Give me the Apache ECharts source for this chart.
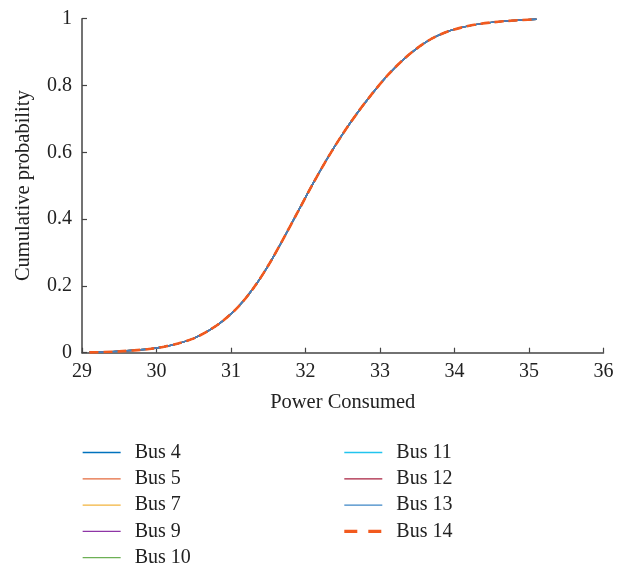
<!DOCTYPE html>
<html>
<head>
<meta charset="utf-8">
<script src="https://cdn.jsdelivr.net/npm/echarts@6/dist/echarts.min.js"></script>
<style>
html,body{margin:0;padding:0;background:#fff;}
#chart{width:626px;height:563px;}
</style>
</head>
<body>
<div id="chart"></div>
<script>
// Power consumed (x) sample positions
var powerValues = [29.1, 29.3, 29.5, 29.7, 29.9, 30.1, 30.3, 30.5, 30.7, 30.9,
  31.1, 31.3, 31.5, 31.7, 31.9, 32.1, 32.3, 32.5, 32.7, 32.9,
  33.1, 33.3, 33.5, 33.7, 33.9, 34.1, 34.3, 34.5, 34.7, 34.9, 35.1];
// Cumulative probability (all buses overlap)
var cumulativeProb = [0.001, 0.002, 0.004, 0.007, 0.011, 0.018, 0.028, 0.043, 0.066, 0.097,
  0.138, 0.193, 0.261, 0.340, 0.423, 0.506, 0.584, 0.655, 0.719, 0.777,
  0.830, 0.875, 0.912, 0.941, 0.961, 0.974, 0.983, 0.989, 0.993, 0.996, 0.998];
var busNames = ['Bus 4', 'Bus 5', 'Bus 7', 'Bus 9', 'Bus 10', 'Bus 11', 'Bus 12', 'Bus 13', 'Bus 14'];
var busColors = ['#0072BD', '#E46A3C', '#F2B33D', '#8E35A6', '#6DB055', '#22C4EE', '#A8203F', '#3C86C6', '#F25A1E'];
var xTicks = [29, 30, 31, 32, 33, 34, 35, 36];
var yTicks = [0, 0.2, 0.4, 0.6, 0.8, 1];

var FONT = 'Liberation Serif';
var series = busNames.map(function (name, i) {
  var dashed = (name === 'Bus 14');
  return {
    name: name,
    type: 'line',
    data: powerValues.map(function (x, k) { return [x, cumulativeProb[k]]; }),
    showSymbol: false,
    symbol: 'none',
    smooth: 0.3,
    lineStyle: {
      color: busColors[i],
      width: dashed ? 2.6 : 1.5,
      type: dashed ? [9, 5] : 'solid'
    },
    itemStyle: { color: busColors[i] },
    z: 2 + i
  };
});

function legendCfg(names, left) {
  return {
    data: names.map(function (n) {
      if (n === 'Bus 14') {
        return { name: n, lineStyle: { width: 3.2, type: [13, 11] } };
      }
      return { name: n, lineStyle: { width: 1.3 } };
    }),
    orient: 'vertical', left: left, top: 442.5, height: 140,
    padding: 0,
    itemWidth: 38, itemHeight: 14, itemGap: 6.3,
    itemStyle: { opacity: 0, borderWidth: 0 },
    textStyle: { fontFamily: FONT, fontSize: 20, lineHeight: 20, color: '#222', padding: [0, 0, 0, 9] },
    selectedMode: false
  };
}

var chart = echarts.init(document.getElementById('chart'), null, { renderer: 'canvas' });
var axisCol = '#444';
chart.setOption({
  animation: false,
  backgroundColor: '#fff',
  textStyle: { fontFamily: FONT },
  grid: { left: 82, right: 22.5, top: 18.7, bottom: 210.3, containLabel: false },
  xAxis: {
    type: 'value',
    min: xTicks[0], max: xTicks[xTicks.length - 1], interval: 1,
    name: 'Power Consumed', nameLocation: 'middle', nameGap: 39,
    nameTextStyle: { fontFamily: FONT, fontSize: 20.5, color: '#222' },
    axisLine: { show: true, lineStyle: { color: axisCol, width: 1.5 } },
    axisTick: { show: true, inside: true, length: 5, lineStyle: { color: axisCol, width: 1.2 } },
    axisLabel: { fontFamily: FONT, fontSize: 20, color: '#222', margin: 9 },
    splitLine: { show: false }
  },
  yAxis: {
    type: 'value',
    min: yTicks[0], max: yTicks[yTicks.length - 1], interval: 0.2,
    name: 'Cumulative probability', nameLocation: 'middle', nameGap: 48,
    nameTextStyle: { fontFamily: FONT, fontSize: 20.5, color: '#222' },
    axisLine: { show: true, lineStyle: { color: axisCol, width: 1.5 } },
    axisTick: { show: true, inside: true, length: 5, lineStyle: { color: axisCol, width: 1.2 } },
    axisLabel: { fontFamily: FONT, fontSize: 20, color: '#222', margin: 10 },
    splitLine: { show: false }
  },
  legend: [legendCfg(busNames.slice(0, 5), 82), legendCfg(busNames.slice(5), 342.7)],
  series: series
});
</script>
</body>
</html>
